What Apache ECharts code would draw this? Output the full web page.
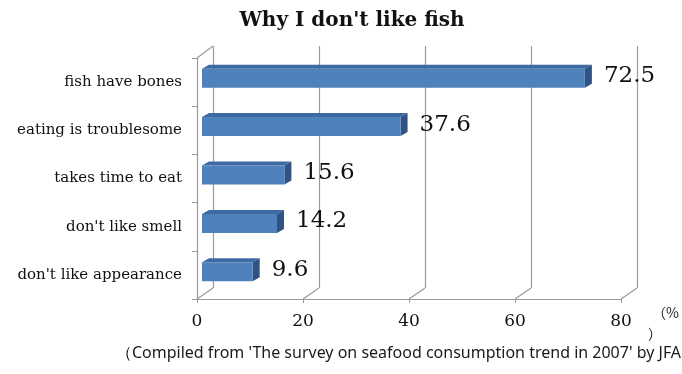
<!DOCTYPE html>
<html><head><meta charset="utf-8">
<script src="https://cdn.jsdelivr.net/npm/echarts@6/dist/echarts.min.js"></script>
<style>html,body{margin:0;padding:0;background:#fff}#c{width:682px;height:374px}</style>
</head><body><div id="c"></div>
<script>
const categories = ["fish have bones", "eating is troublesome", "takes time to eat", "don't like smell", "don't like appearance"];
const values = [72.5, 37.6, 15.6, 14.2, 9.6];
const xMin = 0, xMax = 80, xStep = 20;
const titleText = "Why I don't like fish";
const sourceText = "\uFF08Compiled from 'The survey on seafood consumption trend in 2007' by JFA";
const unitText1 = "\uFF08%", unitText2 = "\uFF09";

const SERIF = "'DejaVu Serif', serif";
const LINE = '#9a9a9a';
const BACK = {left: 213, top: 46, width: 424, height: 242};
const FRONT = {left: 197, top: 58, width: 424, height: 241};
const BARS = {left: 202, top: 54, width: 422.5, height: 242};

const chart = echarts.init(document.getElementById('c'), null, {renderer: 'canvas'});

function renderBar(params, api) {
  const v = api.value(0), c = api.value(1);
  const s = api.coord([0, c]);
  const e = api.coord([v, c]);
  const bh = 19;
  const x0 = s[0], x1 = e[0], yT = s[1] - bh / 2, yB = s[1] + bh / 2;
  const dx = 7, dy = 4;
  return {type: 'group', children: [
    {type: 'polygon', shape: {points: [[x0, yT], [x0 + dx, yT - dy], [x1 + dx, yT - dy], [x1, yT]]}, style: {fill: '#3D6AA3'}},
    {type: 'polygon', shape: {points: [[x1, yT], [x1 + dx, yT - dy], [x1 + dx, yB - dy], [x1, yB]]}, style: {fill: '#2F5385'}},
    {type: 'rect', shape: {x: x0, y: yT, width: x1 - x0, height: bh}, style: {fill: '#4F81BD'}},
    {type: 'text', x: x1 + 19, y: s[1] - 2, style: {text: String(v), fill: '#111', font: "23px " + SERIF, textVerticalAlign: 'middle', textAlign: 'left'}}
  ]};
}

chart.setOption({
  animation: false,
  backgroundColor: '#fff',
  title: {text: titleText, left: 347, top: 6, textAlign: 'center',
    textStyle: {fontFamily: SERIF, fontWeight: 'bold', fontSize: 20, color: '#111'}},
  grid: [
    Object.assign({containLabel: false}, BACK),
    Object.assign({containLabel: false}, FRONT),
    Object.assign({containLabel: false}, BARS)
  ],
  xAxis: [
    {gridIndex: 0, type: 'value', min: xMin, max: xMax, interval: xStep,
      axisLine: {show: false}, axisTick: {show: false}, axisLabel: {show: false},
      splitLine: {show: true, lineStyle: {color: LINE, width: 1.2}}},
    {gridIndex: 1, type: 'value', min: xMin, max: xMax, interval: xStep,
      axisLine: {show: true, lineStyle: {color: LINE, width: 1.2}},
      axisTick: {show: true, length: 4, lineStyle: {color: LINE}},
      axisLabel: {margin: 14, fontFamily: SERIF, fontSize: 17, color: '#111'},
      splitLine: {show: false}},
    {gridIndex: 2, type: 'value', min: xMin, max: xMax, show: false}
  ],
  yAxis: [
    {gridIndex: 0, type: 'value', min: 0, max: 1, show: false},
    {gridIndex: 1, type: 'category', data: categories, inverse: true,
      axisLine: {show: true, lineStyle: {color: LINE, width: 1.2}},
      axisTick: {show: true, length: 5, lineStyle: {color: LINE}},
      axisLabel: {margin: 15, fontFamily: SERIF, fontSize: 15, color: '#111'}},
    {gridIndex: 2, type: 'category', data: categories, inverse: true, show: false}
  ],
  series: [{
    type: 'custom', xAxisIndex: 2, yAxisIndex: 2,
    data: values.map((v, i) => [v, i]),
    encode: {x: 0, y: 1},
    renderItem: renderBar, clip: false
  }]
});

// 3D frame connectors derived from the axes
const gfx = [];
const frontBottom = FRONT.top + FRONT.height, backBottom = BACK.top + BACK.height;
for (let v = xMin; v <= xMax; v += xStep) {
  const fx = chart.convertToPixel({xAxisIndex: 1}, v);
  const bx = chart.convertToPixel({xAxisIndex: 0}, v);
  gfx.push({type: 'line', shape: {x1: fx, y1: frontBottom, x2: bx, y2: backBottom}, style: {stroke: LINE, lineWidth: 1.2}, silent: true});
}
const fx0 = chart.convertToPixel({xAxisIndex: 1}, xMin), bx0 = chart.convertToPixel({xAxisIndex: 0}, xMin);
gfx.push({type: 'line', shape: {x1: fx0, y1: FRONT.top, x2: bx0, y2: BACK.top}, style: {stroke: LINE, lineWidth: 1.2}, silent: true});
gfx.push({type: 'text', left: 116, top: 345, style: {text: sourceText, font: "16px 'Noto Sans', sans-serif", fill: '#1a1a1a'}});
gfx.push({type: 'text', left: 652, top: 306, style: {text: unitText1, font: "14px 'Noto Sans CJK JP', sans-serif", fill: '#222'}});
gfx.push({type: 'text', left: 648, top: 327, style: {text: unitText2, font: "14px 'Noto Sans CJK JP', sans-serif", fill: '#222'}});
chart.setOption({graphic: gfx});
</script></body></html>
